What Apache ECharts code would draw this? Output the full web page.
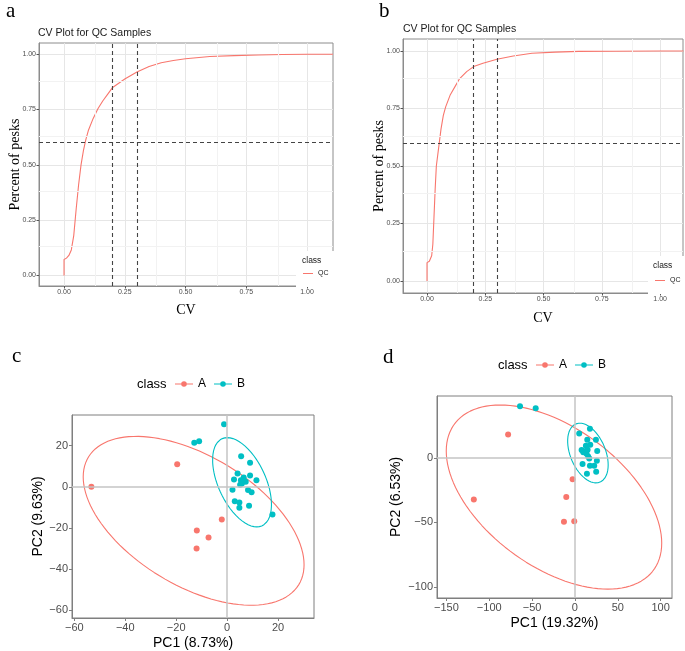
<!DOCTYPE html>
<html>
<head>
<meta charset="utf-8">
<script src="https://cdn.jsdelivr.net/npm/echarts@6/dist/echarts.min.js"></script>
<style>
  html, body { margin: 0; padding: 0; background: #fff; }
  #main { width: 685px; height: 651px; }
</style>
</head>
<body>
<div id="main"></div>
<script>
// CV curves (cumulative share of peaks vs CV)
const cvA_x = [0, 0, 0.01, 0.02, 0.03, 0.04, 0.05, 0.06, 0.07, 0.08, 0.09, 0.10, 0.12, 0.14, 0.16, 0.18, 0.20, 0.25, 0.30, 0.35, 0.40, 0.45, 0.50, 0.60, 0.70, 0.80, 0.90, 1.00, 1.107];
const cvA_y = [0, 0.072, 0.078, 0.09, 0.115, 0.18, 0.30, 0.41, 0.50, 0.565, 0.615, 0.655, 0.71, 0.755, 0.79, 0.82, 0.85, 0.888, 0.92, 0.945, 0.962, 0.972, 0.98, 0.99, 0.994, 0.997, 0.999, 1.0, 1.0];
const cvB_x = [0, 0, 0.01, 0.02, 0.025, 0.03, 0.035, 0.04, 0.05, 0.06, 0.07, 0.08, 0.10, 0.12, 0.14, 0.17, 0.20, 0.24, 0.30, 0.37, 0.45, 0.55, 0.65, 0.80, 1.00, 1.10];
const cvB_y = [0, 0.08, 0.086, 0.11, 0.16, 0.28, 0.40, 0.50, 0.58, 0.66, 0.72, 0.757, 0.81, 0.845, 0.88, 0.91, 0.932, 0.947, 0.964, 0.978, 0.99, 0.995, 0.998, 0.999, 1.0, 1.0];
const cvCutX = [0.2, 0.3];
const cvCutY = [0.6];
const cvTicks = [0, 0.25, 0.5, 0.75, 1];
const cvMinorX = [0.125, 0.375, 0.625, 0.875];
const cvMinorY = [0.125, 0.375, 0.625, 0.875];

// PCA scores, panel c
const pcaC_A = [[-53.3, 0], [-19.6, 10.9], [-11.9, -21.3], [-7.3, -24.7], [-12.0, -30.0], [-2.1, -15.9]];
const pcaC_B = [[-1.2, 30.4], [-12.9, 21.4], [-11.0, 22.1], [5.5, 14.9], [9.0, 11.7], [4.1, 6.5], [6.5, 4.5], [9.0, 5.5], [11.5, 3.2], [2.7, 3.6], [5.4, 3.2], [7.3, 2.4], [5.8, 1.6], [5.1, 1.0], [2.1, -1.5], [8.2, -1.6], [9.6, -2.6], [3.0, -7.0], [4.8, -7.6], [4.8, -10.2], [8.6, -9.2], [17.8, -13.5]];
// PCA scores, panel d
const pcaD_A = [[-78.0, 18.3], [-118, -32.2], [-2.7, -16.5], [-10.1, -30.2], [-12.8, -49.5], [-0.8, -49.0]];
const pcaD_B = [[-64.1, 40.2], [-45.8, 38.7], [17.5, 22.7], [5.0, 19.1], [14.4, 14.2], [24.5, 14.2], [12.8, 9.5], [17.9, 10.3], [7.8, 6.2], [11.6, 5.2], [13.6, 3.4], [26.0, 5.4], [15.5, 1.3], [16.7, -0.3], [25.6, -2.1], [8.9, -4.6], [17.5, -5.9], [22.5, -5.9], [24.8, -10.6], [14.0, -12.1], [9.7, 4.6], [14.8, 6.4]];
// ellipses: [centerX, centerY, halfWidthX, halfHeightY, correlation]
const ellC_A = [-13.15, -16.55, 43.35, 41.05, -0.52];
const ellC_B = [5.85, 2.2, 11.55, 21.7, -0.5];
const ellD_A = [-24.45, -30.3, 125.75, 71.5, -0.5];
const ellD_B = [15.15, 3.9, 23.65, 23.2, -0.4];
const pcaC_ticks = [-60, -40, -20, 0, 20];
const pcaD_xticks = [-150, -100, -50, 0, 50, 100];
const pcaD_yticks = [-100, -50, 0];

const RED = '#F8766D';
const CYAN = '#00BFC4';
const SERIF = '"Liberation Serif", "DejaVu Serif", serif';
const SANS = '"Liberation Sans", Arial, sans-serif';

const zip = (xs, ys) => xs.map((x, i) => [x, ys[i]]);
const ellipse = (e) => {
    const pts = [];
    const phi = Math.acos(e[4]);
    for (let i = 0; i <= 120; i++) {
        const t = i / 120 * Math.PI * 2;
        pts.push([e[0] + e[2] * Math.cos(t), e[1] + e[3] * Math.cos(t - phi)]);
    }
    return pts;
};

const smallLabel = { fontSize: 7, color: '#4d4d4d', fontFamily: SANS, margin: 3, formatter: v => v.toFixed(2) };
const pcaLabel = { fontSize: 11, color: '#4d4d4d', fontFamily: SANS, margin: 4, formatter: v => String(v).replace('-', '\u2212') };

const cvAxis = (min, max, name, gap) => ({
    type: 'value', min, max, name,
    nameLocation: 'middle', nameGap: gap, nameMoveOverlap: false,
    nameTextStyle: { fontFamily: SERIF, fontSize: 14, color: '#000' },
    axisLine: { show: true, onZero: false, lineStyle: { color: '#8c8c8c', width: 1 } },
    axisTick: { show: true, length: 2.5, customValues: cvTicks, lineStyle: { color: '#555' } },
    axisLabel: Object.assign({ customValues: cvTicks }, smallLabel),
    splitLine: { show: true, lineStyle: { color: '#e6e6e6', width: 1 } }
});
const pcaAxis = (min, max, ticks, name, gap) => ({
    type: 'value', min, max, name,
    nameLocation: 'middle', nameGap: gap,
    nameTextStyle: { fontFamily: SANS, fontSize: 14, color: '#000' },
    axisLine: { show: true, onZero: false, lineStyle: { color: '#7f7f7f', width: 1 } },
    axisTick: { show: true, length: 3, customValues: ticks, lineStyle: { color: '#7f7f7f' } },
    axisLabel: Object.assign({ customValues: ticks }, pcaLabel),
    splitLine: { show: false }
});

const minorLines = (idx) => ({
    type: 'line', xAxisIndex: idx, yAxisIndex: idx, data: [], z: 1, silent: true,
    markLine: {
        symbol: ['none', 'none'], silent: true, animation: false, label: { show: false },
        lineStyle: { color: '#f2f2f2', width: 1, type: 'solid' },
        data: cvMinorX.map(v => ({ xAxis: v })).concat(cvMinorY.map(v => ({ yAxis: v })))
    }
});
const cvCurve = (idx, xs, ys) => ({
    name: 'QC', type: 'line', xAxisIndex: idx, yAxisIndex: idx,
    data: zip(xs, ys), showSymbol: false, symbol: 'none', z: 3,
    itemStyle: { color: RED }, lineStyle: { color: RED, width: 1.1 },
    markLine: {
        symbol: ['none', 'none'], silent: true, animation: false, label: { show: false },
        lineStyle: { color: '#444', width: 1.1, type: [4, 3] },
        data: cvCutX.map(v => ({ xAxis: v })).concat(cvCutY.map(v => ({ yAxis: v })))
    }
});
const zeroLines = (idx) => ({
    type: 'line', xAxisIndex: idx, yAxisIndex: idx, data: [], z: 1, silent: true,
    markLine: {
        symbol: ['none', 'none'], silent: true, animation: false, label: { show: false },
        lineStyle: { color: '#c4c4c4', width: 1.5, type: 'solid' },
        data: [{ xAxis: 0 }, { yAxis: 0 }]
    }
});
const dots = (idx, name, data, color) => ({
    name, type: 'scatter', xAxisIndex: idx, yAxisIndex: idx, data,
    symbolSize: 6, itemStyle: { color, opacity: 1 }, z: 3
});
const ring = (idx, e, color) => ({
    type: 'line', xAxisIndex: idx, yAxisIndex: idx, data: ellipse(e),
    showSymbol: false, symbol: 'none', smooth: false, z: 2,
    itemStyle: { color }, lineStyle: { color, width: 1.1 }
});

const dotIcon = 'path://M0,2.4H6.3V3.6H0Z M11.7,2.4H18V3.6H11.7Z M6.2,3A2.8,2.8 0 1 1 11.8,3A2.8,2.8 0 1 1 6.2,3Z';

const option = {
    animation: false,
    backgroundColor: '#fff',
    title: [
        { text: 'a', left: 1, top: -4, textStyle: { fontFamily: SERIF, fontSize: 21, fontWeight: 'normal', color: '#000' } },
        { text: 'b', left: 374, top: -4, textStyle: { fontFamily: SERIF, fontSize: 21, fontWeight: 'normal', color: '#000' } },
        { text: 'c', left: 7, top: 341, textStyle: { fontFamily: SERIF, fontSize: 21, fontWeight: 'normal', color: '#000' } },
        { text: 'd', left: 378, top: 342, textStyle: { fontFamily: SERIF, fontSize: 21, fontWeight: 'normal', color: '#000' } },
        { text: 'CV Plot for QC Samples', left: 38, top: 28, padding: 0, textStyle: { fontFamily: SANS, fontSize: 10.5, fontWeight: 'normal', color: '#1a1a1a' } },
        { text: 'CV Plot for QC Samples', left: 403, top: 24, padding: 0, textStyle: { fontFamily: SANS, fontSize: 10.5, fontWeight: 'normal', color: '#1a1a1a' } },
        { text: 'class', left: 302, top: 256, padding: 0, z: 10, textStyle: { fontFamily: SANS, fontSize: 8.5, fontWeight: 'normal', color: '#1a1a1a' } },
        { text: 'class', left: 653, top: 261, padding: 0, z: 10, textStyle: { fontFamily: SANS, fontSize: 8.5, fontWeight: 'normal', color: '#1a1a1a' } },
        { text: 'class', left: 137, top: 378, padding: 0, textStyle: { fontFamily: SANS, fontSize: 13, fontWeight: 'normal', color: '#000' } },
        { text: 'class', left: 498, top: 359, padding: 0, textStyle: { fontFamily: SANS, fontSize: 13, fontWeight: 'normal', color: '#000' } }
    ],
    legend: [
        {
            left: 296, top: 251, orient: 'vertical', padding: [19, 12, 10, 7], z: 5,
            backgroundColor: '#fff', data: [{ name: 'QC', icon: 'rect' }],
            itemWidth: 10, itemHeight: 1, selectedMode: false,
            textStyle: { fontSize: 7, color: '#1a1a1a', fontFamily: SANS }
        },
        {
            left: 648, top: 256, orient: 'vertical', padding: [21, 10, 10, 7], z: 5,
            backgroundColor: '#fff', data: [{ name: 'QC', icon: 'rect' }],
            itemWidth: 10, itemHeight: 1, selectedMode: false,
            textStyle: { fontSize: 7, color: '#1a1a1a', fontFamily: SANS }
        },
        {
            left: 175, top: 378, padding: 0, itemGap: 8, selectedMode: false,
            data: [{ name: 'A', icon: dotIcon }, { name: 'B', icon: dotIcon }],
            itemWidth: 18, itemHeight: 6,
            textStyle: { fontSize: 12, color: '#000', fontFamily: SANS }
        },
        {
            left: 536, top: 359, padding: 0, itemGap: 8, selectedMode: false,
            data: [{ name: 'A', icon: dotIcon }, { name: 'B', icon: dotIcon }],
            itemWidth: 18, itemHeight: 6,
            textStyle: { fontSize: 12, color: '#000', fontFamily: SANS }
        }
    ],
    grid: [
        { left: 39, top: 43, width: 294, height: 243, show: true, borderColor: '#8c8c8c', borderWidth: 1, backgroundColor: '#fff', containLabel: false },
        { left: 403, top: 39, width: 280, height: 254, show: true, borderColor: '#8c8c8c', borderWidth: 1, backgroundColor: '#fff', containLabel: false },
        { left: 72, top: 415, width: 242, height: 203, show: true, borderColor: '#7f7f7f', borderWidth: 1, backgroundColor: '#fff', containLabel: false },
        { left: 437, top: 396, width: 235, height: 202, show: true, borderColor: '#7f7f7f', borderWidth: 1, backgroundColor: '#fff', containLabel: false }
    ],
    xAxis: [
        Object.assign(cvAxis(-0.103, 1.107, 'CV', 17), { gridIndex: 0 }),
        Object.assign(cvAxis(-0.103, 1.098, 'CV', 18), { gridIndex: 1 }),
        Object.assign(pcaAxis(-60.9, 34.1, pcaC_ticks, 'PC1 (8.73%)', 18), { gridIndex: 2 }),
        Object.assign(pcaAxis(-161, 113.3, pcaD_xticks, 'PC1 (19.32%)', 18), { gridIndex: 3 })
    ],
    yAxis: [
        Object.assign(cvAxis(-0.048, 1.051, 'Percent of pesks', 17), { gridIndex: 0 }),
        Object.assign(cvAxis(-0.052, 1.052, 'Percent of pesks', 17), { gridIndex: 1 }),
        Object.assign(pcaAxis(-63.8, 34.9, pcaC_ticks, 'PC2 (9.63%)', 27), { gridIndex: 2 }),
        Object.assign(pcaAxis(-108.7, 48.2, pcaD_yticks, 'PC2 (6.53%)', 34), { gridIndex: 3 })
    ],
    series: [
        minorLines(0),
        cvCurve(0, cvA_x, cvA_y),
        minorLines(1),
        cvCurve(1, cvB_x, cvB_y),
        zeroLines(2),
        dots(2, 'A', pcaC_A, RED),
        dots(2, 'B', pcaC_B, CYAN),
        ring(2, ellC_A, RED),
        ring(2, ellC_B, CYAN),
        zeroLines(3),
        dots(3, 'A', pcaD_A, RED),
        dots(3, 'B', pcaD_B, CYAN),
        ring(3, ellD_A, RED),
        ring(3, ellD_B, CYAN)
    ]
};

const myChart = echarts.init(document.getElementById('main'), null, { renderer: 'canvas' });
myChart.setOption(option);
</script>
</body>
</html>
